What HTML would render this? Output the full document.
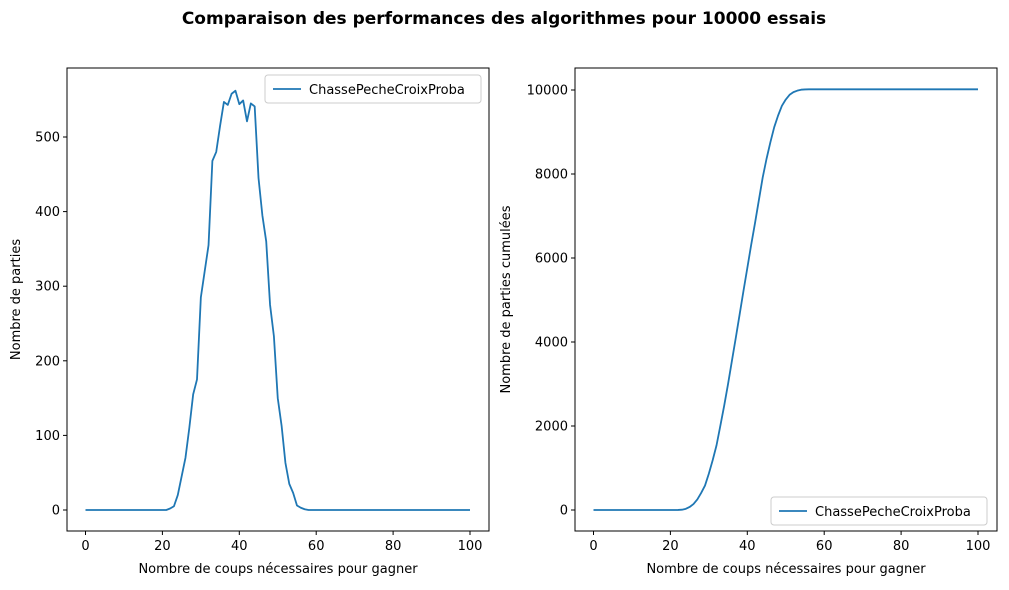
<!DOCTYPE html>
<html><head><meta charset="utf-8"><style>
body{margin:0;background:#fff}
svg{font-family:"DejaVu Sans","Liberation Sans",sans-serif}
.t{font-size:13px;fill:#000}
</style></head><body>
<svg id="c" width="1009" height="585" xmlns="http://www.w3.org/2000/svg">
<text x="504" y="24" text-anchor="middle" font-weight="bold" font-size="17">Comparaison des performances des algorithmes pour 10000 essais</text>
</svg>
<script>
const xValues=[];for(let i=0;i<=100;i++)xValues.push(i);
const peakStart=21;
const peakCounts=[0,2,5,20,45,70,110,155,175,285,320,355,468,480,515,547,543,558,562,544,549,521,545,541,445,395,360,275,233,150,113,63,35,23,6,3,1,0];
const leftYTicks=[0,100,200,300,400,500];
const rightYTicks=[0,2000,4000,6000,8000,10000];
const xTicks=[0,20,40,60,80,100];
const seriesName="ChassePecheCroixProba";
const counts=xValues.map(x=>{const k=x-peakStart;return (k>=0&&k<peakCounts.length)?peakCounts[k]:0;});
const cumul=[];let s=0;counts.forEach(v=>{s+=v;cumul.push(s);});
const svg=document.getElementById('c');const NS='http://www.w3.org/2000/svg';
function mk(t,a,p){const e=document.createElementNS(NS,t);for(const k in a)e.setAttribute(k,a[k]);(p||svg).appendChild(e);return e;}
function panel(id,L,R,ymin,ymax,y0px,ytop,ylabelPx,data,ticks,ylab,legendPos){
  const T=68,B=531;
  const g=mk('g',{});
  
  
  const xs=x=>L+18.5+x*3.845;
  const ys=v=>y0px-(v-ymin)/(ymax-ymin)*(y0px-ytop);
  ticks.forEach(t=>{const y=ys(t);mk('line',{x1:L-4,x2:L,y1:y,y2:y,stroke:'#000'},g);
    const tx=mk('text',{x:L-7,y:y+4.5,'text-anchor':'end',class:'t'},g);tx.textContent=t;
    });
  xTicks.forEach(t=>{const x=xs(t);mk('line',{x1:x,x2:x,y1:B,y2:B+4,stroke:'#000'},g);
    const tx=mk('text',{x:x,y:B+19,'text-anchor':'middle',class:'t'},g);tx.textContent=t;
    });
  const d=data.map((v,i)=>(i?'L':'M')+xs(xValues[i]).toFixed(2)+','+ys(v).toFixed(2)).join('');
  const p=mk('path',{d:d,fill:'none',stroke:'#1f77b4','stroke-width':1.8,'stroke-linejoin':'round'},g);
  
  const fr=mk('rect',{x:L,y:T,width:R-L,height:B-T,fill:'none',stroke:'#000','stroke-width':1},g);
  
  const xl=mk('text',{x:(L+R)/2,y:573,'text-anchor':'middle',class:'t'},g);xl.textContent='Nombre de coups nécessaires pour gagner';
  
  const yl=mk('text',{x:ylabelPx,y:(T+B)/2,'text-anchor':'middle',class:'t',transform:`rotate(-90 ${ylabelPx} ${(T+B)/2})`},g);yl.textContent=ylab;
  
  const lg=mk('g',{},g);
  
  const lx=legendPos[0],ly=legendPos[1];
  mk('rect',{x:lx,y:ly,width:216,height:28,rx:3,fill:'#fff',stroke:'#ccc'},lg);
  mk('line',{x1:lx+8,x2:lx+36,y1:ly+14,y2:ly+14,stroke:'#1f77b4','stroke-width':1.8},lg);
  const lt=mk('text',{x:lx+44,y:ly+19,class:'t'},lg);lt.textContent=seriesName;
}
panel('left-chart',67,489,0,500,510,137,20,counts,leftYTicks,'Nombre de parties',[265,75]);
panel('right-chart',575,997,0,10000,510,90,510,cumul,rightYTicks,'Nombre de parties cumulées',[771,497]);
</script>
</body></html>
